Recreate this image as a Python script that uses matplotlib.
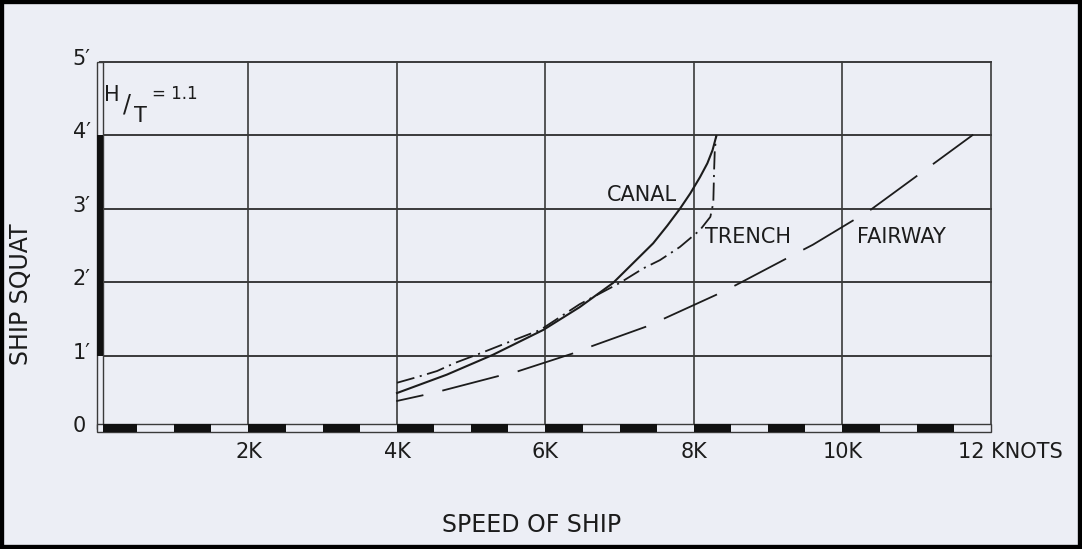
import numpy as np
import matplotlib
matplotlib.use("Agg")
import matplotlib.pyplot as plt
from matplotlib.patches import Rectangle

plt.rcParams['font.family'] = ['DejaVu Sans']
plt.rcParams['lines.scale_dashes'] = False

# speed in thousands of knots, squat in feet
canal_x = [4.0, 4.67, 5.29, 5.97, 6.46, 6.91, 7.2, 7.45, 7.64, 7.81, 7.95, 8.08, 8.18, 8.25, 8.30]
canal_y = [0.49, 0.74, 1.01, 1.35, 1.66, 1.99, 2.28, 2.53, 2.77, 3.0, 3.21, 3.43, 3.62, 3.80, 3.99]

trench_x = [4.0, 4.28, 4.54, 4.78, 5.12, 5.52, 5.93, 6.46, 7.0, 7.32, 7.54, 7.81,
            8.08, 8.22, 8.26, 8.27, 8.28, 8.30]
trench_y = [0.63, 0.71, 0.79, 0.90, 1.03, 1.19, 1.35, 1.70, 1.99, 2.19, 2.30, 2.48,
            2.71, 2.89, 3.08, 3.50, 3.80, 3.99]

fairway_x = [3.99, 4.35, 4.6, 5.36, 5.61, 6.37, 6.6, 7.37, 7.61, 8.39, 8.62, 9.39,
             9.6, 10.37, 10.6, 11.76]
fairway_y = [0.38, 0.46, 0.52, 0.72, 0.78, 1.03, 1.12, 1.40, 1.51, 1.87, 1.99, 2.40,
             2.51, 2.98, 3.15, 4.01]

x_ticks = [2, 4, 6, 8, 10]
x_tick_labels = ["2K", "4K", "6K", "8K", "10K"]
y_ticks = [0, 1, 2, 3, 4, 5]
y_tick_labels = ["0", "1\u2032", "2\u2032", "3\u2032", "4\u2032", "5\u2032"]

bg = '#eceef5'
ink = '#1c1c1c'
grid = '#3a3a3a'

fig = plt.figure(figsize=(10.82, 5.49), dpi=100, facecolor=bg)
ax = fig.add_axes([100 / 1082, 120 / 549, 891 / 1082, 367 / 549])
ax.set_facecolor(bg)
ax.set_xlim(0, 12)
ax.set_ylim(0, 5)
for s in ax.spines.values():
    s.set_visible(False)
ax.set_xticks([])
ax.set_yticks([])

# grid
for yv in [1, 2, 3, 4, 5]:
    ax.axhline(yv, color=grid, lw=1.4, zorder=1, clip_on=False)
for xv in [2, 4, 6, 8, 10, 12]:
    ax.axvline(xv, color=grid, lw=1.2, zorder=1, clip_on=False)

# left scale strip
ax.add_patch(Rectangle((-0.04, 0), 0.08, 5, facecolor=bg, edgecolor=grid,
                       lw=1.0, clip_on=False, zorder=2))
ax.add_patch(Rectangle((-0.04, 1), 0.08, 3, facecolor='#111111', edgecolor='none',
                       clip_on=False, zorder=3))
# bottom scale strip
ax.add_patch(Rectangle((-0.04, -0.045), 12.04, 0.11, facecolor=bg, edgecolor=grid,
                       lw=1.0, clip_on=False, zorder=2))
for k in range(12):
    x0 = max(k, 0.04)
    ax.add_patch(Rectangle((x0, -0.045), k + 0.5 - x0, 0.11, facecolor='#111111',
                           edgecolor='none', clip_on=False, zorder=3))

# curves
ax.plot(canal_x, canal_y, color=ink, lw=1.5, zorder=4)
ax.plot(trench_x, trench_y, color=ink, lw=1.3, zorder=4,
        linestyle=(0, (13, 4, 1.5, 4)))
ax.plot(fairway_x, fairway_y, color=ink, lw=1.3, zorder=4,
        linestyle=(22, (42, 14)))

ax.text(7.30, 3.19, "CANAL", fontsize=15, color=ink, ha='center', va='center')
ax.text(8.73, 2.62, "TRENCH", fontsize=15, color=ink, ha='center', va='center')
ax.text(10.79, 2.62, "FAIRWAY", fontsize=15, color=ink, ha='center', va='center')

# H/T = 1.1
ax.text(0.16, 4.55, "H", fontsize=15, color=ink, ha='center', va='center')
ax.text(0.36, 4.42, "/", fontsize=17, color=ink, ha='center', va='center')
ax.text(0.55, 4.26, "T", fontsize=15, color=ink, ha='center', va='center')
ax.text(0.70, 4.56, "= 1.1", fontsize=12, color=ink, ha='left', va='center')

# tick labels
for yv, lab in zip(y_ticks, y_tick_labels):
    ax.text(-0.37, yv + 0.04, lab, fontsize=15, color=ink, ha='left', va='center',
            clip_on=False)
for xv, lab in zip(x_ticks, x_tick_labels):
    ax.text(xv, -0.31, lab, fontsize=15, color=ink, ha='center', va='center',
            clip_on=False)
ax.text(11.56, -0.31, "12 KNOTS", fontsize=15, color=ink, ha='left', va='center',
        clip_on=False)

fig.text(532 / 1082, 1 - 525 / 549, "SPEED OF SHIP", fontsize=17, color=ink,
         ha='center', va='center')
fig.text(21 / 1082, 1 - 294 / 549, "SHIP SQUAT", fontsize=17, color=ink,
         ha='center', va='center', rotation=90)

# scan frame
fig.add_artist(Rectangle((0, 0), 1, 1, transform=fig.transFigure, fill=False,
                         edgecolor='black', lw=6))

fig.savefig("out.png", dpi=100, facecolor=bg)
